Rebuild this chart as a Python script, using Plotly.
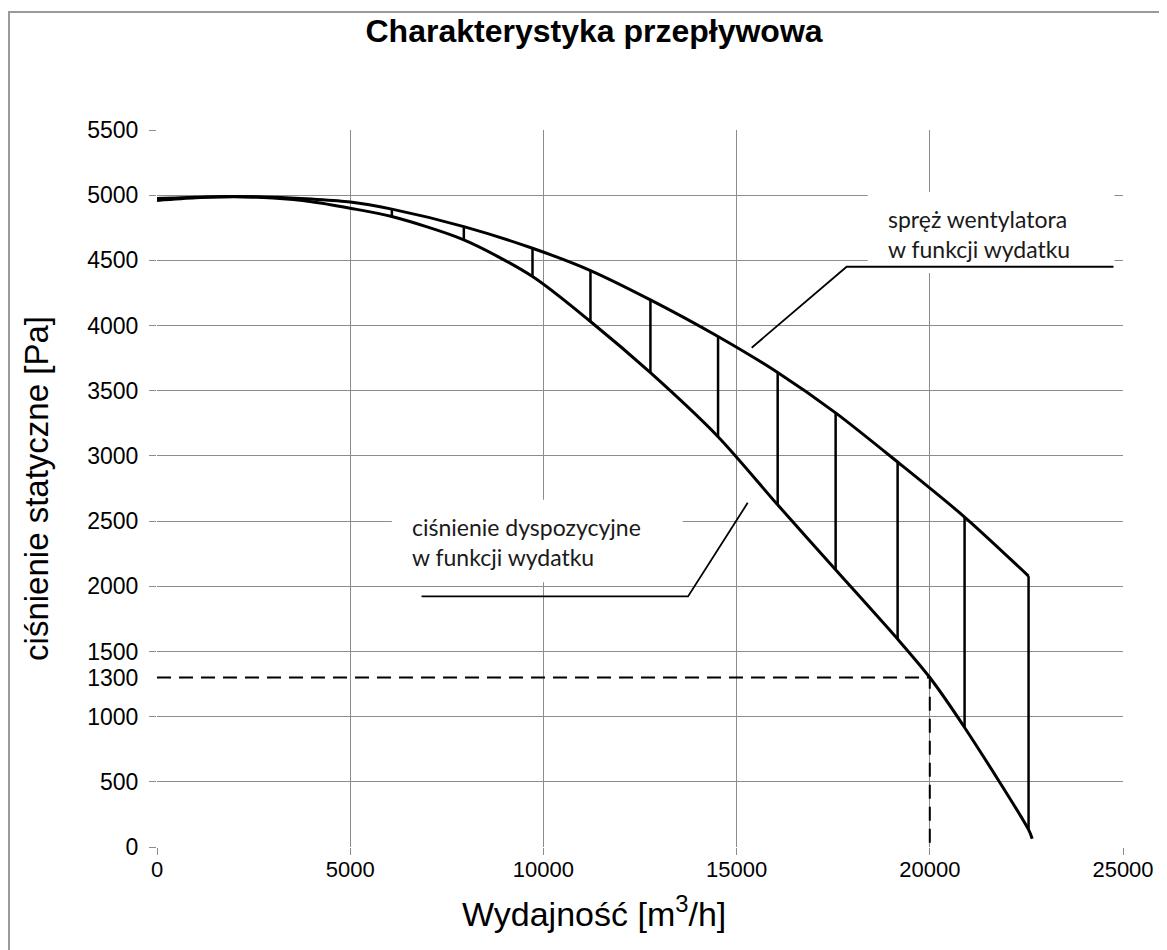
import plotly.graph_objects as go

# --- data ---
flow_upper = [0, 1000, 2000, 3000, 4000, 5000, 6078, 7941, 9718, 11218, 12770, 14520, 16063, 17563, 19167, 20900, 22556]
press_upper = [4975, 4985, 4990, 4985, 4970, 4948, 4893, 4759, 4593, 4422, 4197, 3916, 3640, 3330, 2953, 2531, 2078]

flow_lower = [0, 1000, 2000, 3000, 4000, 5000, 6078, 7941, 9718, 11218, 12770, 14520, 16063, 17563, 19167, 20000, 20900, 22556, 22650]
press_lower = [4960, 4980, 4988, 4978, 4950, 4900, 4836, 4657, 4376, 4031, 3638, 3147, 2625, 2127, 1595, 1300, 917, 133, 64]

hatch_flow = [6078, 7941, 9718, 11218, 12770, 14520, 16063, 17563, 19167, 20900, 22556]
hatch_top = [4893, 4759, 4593, 4422, 4197, 3916, 3640, 3330, 2953, 2531, 2078]
hatch_bottom = [4836, 4657, 4376, 4031, 3638, 3147, 2625, 2127, 1595, 917, 133]

op_flow = 20000
op_press = 1300

x_ticks = [0, 5000, 10000, 15000, 20000, 25000]
y_ticks = [0, 500, 1000, 1500, 2000, 2500, 3000, 3500, 4000, 4500, 5000, 5500]
y_extra_ticks = [1300]

label_upper = "spręż wentylatora<br>w funkcji wydatku"
label_lower = "ciśnienie dyspozycyjne<br>w funkcji wydatku"
leader_upper_x = [15390, 17848, 24754]
leader_upper_y = [3830, 4451, 4451]
leader_lower_x = [6847, 13743, 15287]
leader_lower_y = [1922, 1922, 2640]

title = "Charakterystyka przepływowa"
x_title = "Wydajność [m<sup>3</sup>/h]"
y_title = "ciśnienie statyczne [Pa]"

GRID = "#8c8c8c"
fig = go.Figure()

# hatch vertical lines
hx, hy = [], []
for f, t, b in zip(hatch_flow, hatch_top, hatch_bottom):
    hx += [f, f, None]
    hy += [b, t, None]
fig.add_trace(go.Scatter(x=hx, y=hy, mode="lines", line=dict(color="black", width=2.5),
                         hoverinfo="skip", showlegend=False))

fig.add_trace(go.Scatter(x=flow_upper, y=press_upper, mode="lines",
                         line=dict(color="black", width=3, shape="spline", smoothing=0.8),
                         showlegend=False))
fig.add_trace(go.Scatter(x=flow_lower, y=press_lower, mode="lines",
                         line=dict(color="black", width=3, shape="spline", smoothing=0.8),
                         showlegend=False))

# operating point dashed lines
fig.add_trace(go.Scatter(x=[0, op_flow, op_flow], y=[op_press, op_press, 0], mode="lines",
                         line=dict(color="black", width=2, dash="14px,8px"),
                         showlegend=False, cliponaxis=False))

# leader lines
fig.add_trace(go.Scatter(x=leader_upper_x, y=leader_upper_y, mode="lines",
                         line=dict(color="black", width=1.8), showlegend=False))
fig.add_trace(go.Scatter(x=leader_lower_x, y=leader_lower_y, mode="lines",
                         line=dict(color="black", width=1.8), showlegend=False))

# invisible trace for the extra y axis
fig.add_trace(go.Scatter(x=[0], y=[op_press], yaxis="y2", mode="markers",
                         marker=dict(opacity=0), hoverinfo="skip", showlegend=False))

shapes = [
    # white boxes hiding gridlines behind label texts
    dict(type="rect", xref="x", yref="y", x0=18391, x1=24780, y0=4404, y1=5025,
         fillcolor="white", line=dict(width=0), layer="between"),
    dict(type="rect", xref="x", yref="y", x0=6079, x1=13606, y0=2030, y1=2663,
         fillcolor="white", line=dict(width=0), layer="between"),
    # outer frame
    dict(type="rect", xref="paper", yref="paper", x0=-0.1532, x1=1.2, y0=-0.3, y1=1.1645,
         fillcolor="rgba(0,0,0,0)", line=dict(color="#9a9a9a", width=2), layer="above"),
]

annotations = [
    dict(x=18857, y=4703, xref="x", yref="y", text=label_upper, showarrow=False,
         xanchor="left", yanchor="middle", align="left",
         font=dict(family="Lato", size=23, color="#1a1a1a")),
    dict(x=6544, y=2337, xref="x", yref="y", text=label_lower, showarrow=False,
         xanchor="left", yanchor="middle", align="left",
         font=dict(family="Lato", size=23, color="#1a1a1a")),
    # x axis title (offset left of the plot centre, as in the reference)
    dict(x=0.4524, y=-0.0902, xref="paper", yref="paper", text=x_title, showarrow=False,
         xanchor="center", yanchor="middle",
         font=dict(family="Liberation Sans", size=34, color="black")),
]

W, H = 1159, 942  # page adds an 8px body margin
fig.update_layout(
    width=W, height=H,
    margin=dict(l=149, r=44, t=122, b=103),
    paper_bgcolor="white", plot_bgcolor="white",
    title=dict(text="<b>" + title + "</b>", x=0.4524, xref="paper", xanchor="center",
               y=1 - 23 / H, yanchor="middle",
               font=dict(family="Liberation Sans", size=32, color="black")),
    font=dict(family="Liberation Sans", color="black"),
    shapes=shapes,
    annotations=annotations,
    xaxis=dict(range=[0, 25000], tickvals=x_ticks, ticktext=[str(v) for v in x_ticks],
               showgrid=True, gridcolor=GRID, gridwidth=1, zeroline=False, showline=False,
               ticks="outside", ticklen=7, tickcolor=GRID, tickfont=dict(size=22),
               ticklabelstandoff=-4),
    yaxis=dict(range=[0, 5500], tickvals=y_ticks, ticktext=[str(v) for v in y_ticks],
               showgrid=True, gridcolor=GRID, gridwidth=1, zeroline=False, showline=False,
               ticks="outside", ticklen=7, tickcolor=GRID, tickfont=dict(size=23),
               ticklabelstandoff=6,
               title=dict(text=y_title, font=dict(size=33), standoff=28)),
    yaxis2=dict(overlaying="y", matches="y", range=[0, 5500], tickvals=y_extra_ticks,
                ticktext=[str(v) for v in y_extra_ticks], showgrid=False, zeroline=False,
                showline=False, ticks="outside", ticklen=7, tickcolor="rgba(0,0,0,0)",
                tickfont=dict(size=23), ticklabelstandoff=6, side="left"),
)

fig.write_html("out.html")
